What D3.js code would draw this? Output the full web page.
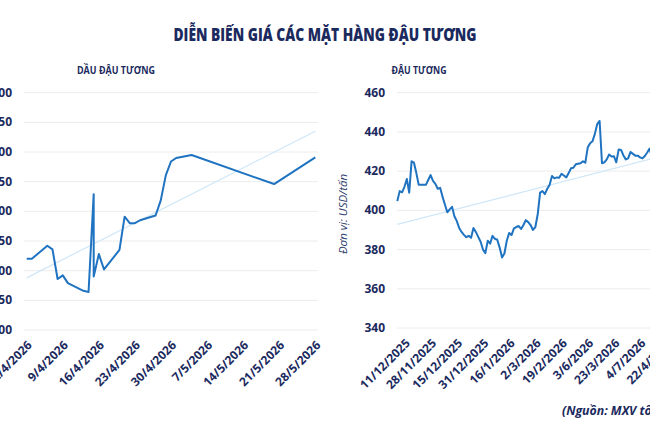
<!DOCTYPE html>
<html>
<head>
<meta charset="utf-8">
<script src="https://cdn.jsdelivr.net/npm/d3@7"></script>
<style>
  body { margin: 0; background: #fff; }
  svg { display: block; font-family: "Open Sans", "Noto Sans", sans-serif; }
</style>
</head>
<body>
<svg id="chart" width="650" height="433"></svg>
<script>
// dầu đậu tương: ngày và giá
const oilDates = [
  "2/4/2026", "3/4/2026", "6/4/2026", "7/4/2026", "8/4/2026", "9/4/2026", "10/4/2026",
  "13/4/2026", "14/4/2026", "15/4/2026", "15/4/2026", "16/4/2026", "17/4/2026",
  "20/4/2026", "21/4/2026", "22/4/2026", "23/4/2026", "24/4/2026", "27/4/2026",
  "28/4/2026", "29/4/2026", "30/4/2026", "1/5/2026", "4/5/2026", "20/5/2026", "28/5/2026"
];
const oilPrices = [
  1220, 1220, 1242, 1236, 1186, 1192, 1179, 1166, 1164, 1329, 1190, 1228, 1202,
  1235, 1291, 1280, 1280, 1285, 1293, 1318, 1361, 1384, 1390, 1395, 1346, 1391
];
const oilTicks = [1100, 1150, 1200, 1250, 1300, 1350, 1400, 1450, 1500];

// đậu tương: giá theo phiên
const beanPrices = [
  404.7, 409.8, 409.2, 412, 416, 409, 425, 424.3, 419, 413, 413, 413, 413, 415.5, 418,
  415, 413.5, 411, 411.5, 407, 403, 399, 400.5, 401.8, 397, 394.5, 391, 389, 387.5, 386.3,
  387, 386, 391, 389, 386.5, 384, 380, 378.2, 384.5, 383, 387, 385.5, 385, 381, 376,
  378, 384.5, 388.5, 387.4, 390.8, 391.5, 392, 390.5, 392.5, 395, 394, 392.5, 390, 391.5, 398,
  409, 409.8, 408.3, 411, 413, 417.5, 416.3, 416.8, 416.6, 418.7, 417.8, 416.8, 419, 421.5, 421.7,
  423.5, 423.8, 424, 425, 424.3, 432, 434.2, 435.2, 439, 444, 445.6, 424, 424.5, 426, 428.5,
  427.5, 427.6, 424.5, 431, 430.8, 428, 426, 426.5, 429.8, 428.8, 427.9, 427.9, 427, 426.5,
  427.7, 429.5, 431.5, 427, 427, 428, 426, 429, 430, 428, 427, 429, 428
];
const beanLabels = [
  "11/12/2025", "28/11/2025", "15/12/2025", "31/12/2025", "16/1/2026", "2/3/2026",
  "19/2/2026", "3/6/2026", "23/3/2026", "4/7/2026", "22/4/2026"
];
const beanTicks = [340, 360, 380, 400, 420, 440, 460];

const navy = "#1b2a5e";
const lineBlue = "#1f73c1";
const trendBlue = "#cfe7f7";
const gridGray = "#ececec";

const svg = d3.select("#chart");
const parseDate = d3.timeParse("%d/%m/%Y");
const fmtNum = d3.format(",");

function fitLine(xs, ys) {
  const mx = d3.mean(xs);
  const my = d3.mean(ys);
  let sxy = 0;
  let sxx = 0;
  xs.forEach((x, i) => {
    sxy += (x - mx) * (ys[i] - my);
    sxx += (x - mx) * (x - mx);
  });
  const slope = sxy / sxx;
  return (x) => my + slope * (x - mx);
}

svg.append("text")
  .attr("x", 325)
  .attr("y", 41)
  .attr("text-anchor", "middle")
  .attr("font-size", 17)
  .attr("font-weight", 800)
  .attr("fill", navy)
  .attr("textLength", 303)
  .attr("lengthAdjust", "spacingAndGlyphs")
  .text("DIỄN BIẾN GIÁ CÁC MẶT HÀNG ĐẬU TƯƠNG");

// ---- bên trái: dầu đậu tương
const oilData = oilDates.map((d, i) => ({ date: parseDate(d), value: oilPrices[i] }));
const xOil = d3.scaleTime()
  .domain([parseDate("2/4/2026"), parseDate("28/5/2026")])
  .range([26.7, 315.3]);
const yOil = d3.scaleLinear().domain([1100, 1500]).range([330, 92.7]);

svg.append("text")
  .attr("x", 116)
  .attr("y", 74)
  .attr("text-anchor", "middle")
  .attr("font-size", 10.5)
  .attr("font-weight", 700)
  .attr("fill", navy)
  .attr("textLength", 78)
  .attr("lengthAdjust", "spacingAndGlyphs")
  .text("DẦU ĐẬU TƯƠNG");

const gOil = svg.append("g");
gOil.selectAll("line.grid")
  .data(oilTicks)
  .join("line")
  .attr("class", "grid")
  .attr("x1", 24)
  .attr("x2", 318)
  .attr("y1", (d) => yOil(d))
  .attr("y2", (d) => yOil(d))
  .attr("stroke", gridGray)
  .attr("stroke-width", 1);

gOil.selectAll("text.ylab")
  .data(oilTicks)
  .join("text")
  .attr("class", "ylab")
  .attr("x", 12)
  .attr("y", (d) => yOil(d) + 4)
  .attr("text-anchor", "end")
  .attr("font-size", 12)
  .attr("font-weight", 700)
  .attr("fill", navy)
  .text((d) => fmtNum(d).replace(",", "."));

const oilTickDates = d3.timeDay.range(parseDate("2/4/2026"), parseDate("29/5/2026"), 7);
gOil.selectAll("text.xlab")
  .data(oilTickDates)
  .join("text")
  .attr("class", "xlab")
  .attr("text-anchor", "end")
  .attr("font-size", 12)
  .attr("font-weight", 700)
  .attr("fill", navy)
  .attr("transform", (d) => `translate(${xOil(d) + 6},${346}) rotate(-45)`)
  .text(d3.timeFormat("%-d/%-m/%Y"));

const oilTrend = fitLine(oilData.map((d) => +d.date), oilPrices);
const oilEnds = xOil.domain();
gOil.append("line")
  .attr("x1", xOil(oilEnds[0]))
  .attr("x2", xOil(oilEnds[1]))
  .attr("y1", yOil(oilTrend(+oilEnds[0])))
  .attr("y2", yOil(oilTrend(+oilEnds[1])))
  .attr("stroke", trendBlue)
  .attr("stroke-width", 1.2);

gOil.append("path")
  .datum(oilData)
  .attr("fill", "none")
  .attr("stroke", lineBlue)
  .attr("stroke-width", 2)
  .attr("stroke-linejoin", "round")
  .attr("d", d3.line().x((d) => xOil(d.date)).y((d) => yOil(d.value)));

// ---- bên phải: đậu tương
const xBean = d3.scaleLinear().domain([0, 116]).range([397.3, 673.4]);
const yBean = d3.scaleLinear().domain([340, 460]).range([328, 92.7]);

svg.append("text")
  .attr("x", 419)
  .attr("y", 74)
  .attr("text-anchor", "middle")
  .attr("font-size", 10.5)
  .attr("font-weight", 700)
  .attr("fill", navy)
  .attr("textLength", 55)
  .attr("lengthAdjust", "spacingAndGlyphs")
  .text("ĐẬU TƯƠNG");

const gBean = svg.append("g");
gBean.selectAll("line.grid")
  .data(beanTicks)
  .join("line")
  .attr("class", "grid")
  .attr("x1", 397)
  .attr("x2", 680)
  .attr("y1", (d) => yBean(d))
  .attr("y2", (d) => yBean(d))
  .attr("stroke", gridGray)
  .attr("stroke-width", 1);

gBean.selectAll("text.ylab")
  .data(beanTicks)
  .join("text")
  .attr("class", "ylab")
  .attr("x", 385)
  .attr("y", (d) => yBean(d) + 4)
  .attr("text-anchor", "end")
  .attr("font-size", 12)
  .attr("font-weight", 700)
  .attr("fill", navy)
  .text((d) => d);

gBean.selectAll("text.xlab")
  .data(beanLabels)
  .join("text")
  .attr("class", "xlab")
  .attr("text-anchor", "end")
  .attr("font-size", 12)
  .attr("font-weight", 700)
  .attr("fill", navy)
  .attr("transform", (d, i) => `translate(${xBean(4 + 11 * i) + 4},${344}) rotate(-45)`)
  .text((d) => d);

svg.append("text")
  .attr("transform", "translate(347,214) rotate(-90)")
  .attr("text-anchor", "middle")
  .attr("font-size", 11.5)
  .attr("font-style", "italic")
  .attr("fill", "#2b3a6b")
  .text("Đơn vị: USD/tấn");

const idx = beanPrices.map((d, i) => i);
const beanTrend = fitLine(idx, beanPrices);
gBean.append("line")
  .attr("x1", xBean(0))
  .attr("x2", xBean(beanPrices.length - 1))
  .attr("y1", yBean(beanTrend(0)))
  .attr("y2", yBean(beanTrend(beanPrices.length - 1)))
  .attr("stroke", trendBlue)
  .attr("stroke-width", 1.2);

gBean.append("path")
  .datum(beanPrices)
  .attr("fill", "none")
  .attr("stroke", lineBlue)
  .attr("stroke-width", 2)
  .attr("stroke-linejoin", "round")
  .attr("d", d3.line().x((d, i) => xBean(i)).y((d) => yBean(d)));

svg.append("text")
  .attr("x", 562)
  .attr("y", 415)
  .attr("font-size", 12.3)
  .attr("font-weight", 700)
  .attr("font-style", "italic")
  .attr("fill", navy)
  .text("(Nguồn: MXV tổng hợp)");
</script>
</body>
</html>
